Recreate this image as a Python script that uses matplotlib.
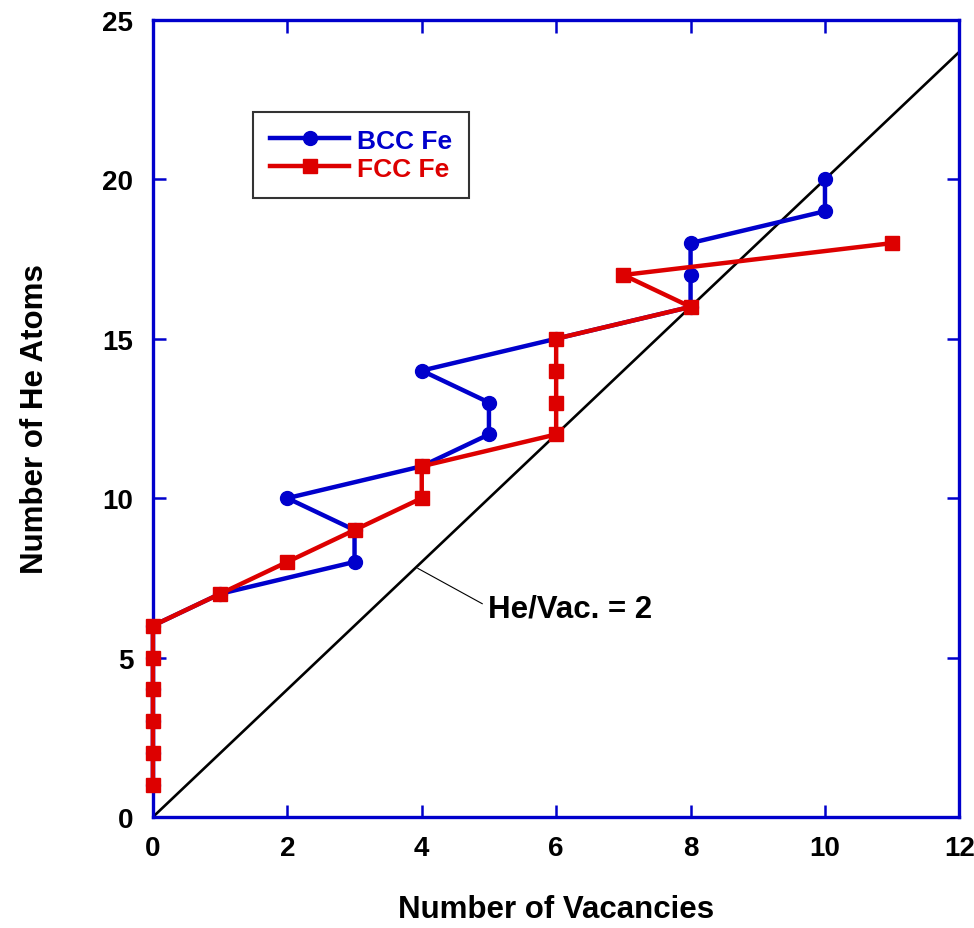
import matplotlib.pyplot as plt

plt.rcParams['font.family'] = ['Liberation Sans', 'DejaVu Sans']
plt.rcParams['font.weight'] = 'bold'

# He-vacancy cluster paths
bcc_vac = [0, 0, 0, 0, 0, 0, 1, 3, 3, 2, 4, 5, 5, 4, 6, 8, 8, 8, 10, 10]
bcc_he = [1, 2, 3, 4, 5, 6, 7, 8, 9, 10, 11, 12, 13, 14, 15, 16, 17, 18, 19, 20]
fcc_vac = [0, 0, 0, 0, 0, 0, 1, 2, 3, 4, 4, 6, 6, 6, 6, 8, 7, 11]
fcc_he = [1, 2, 3, 4, 5, 6, 7, 8, 9, 10, 11, 12, 13, 14, 15, 16, 17, 18]
ratio_x = [0, 12]
ratio_y = [0, 24]

blue = '#0000cc'
red = '#dd0000'

fig = plt.figure(figsize=(9.74, 9.29), dpi=100)
ax = fig.add_axes([0.157, 0.1195, 0.828, 0.858])

ax.plot(ratio_x, ratio_y, color='black', lw=1.9, zorder=2)
ax.plot(bcc_vac, bcc_he, color=blue, lw=3.2, marker='o', ms=10,
        label='BCC Fe', zorder=3, clip_on=False)
ax.plot(fcc_vac, fcc_he, color=red, lw=3.2, marker='s', ms=10,
        label='FCC Fe', zorder=4, clip_on=False)

ax.annotate('He/Vac. = 2', xy=(3.94, 7.8), xytext=(4.98, 6.55),
            fontsize=22.5, fontweight='bold', va='center', ha='left',
            arrowprops=dict(arrowstyle='-', color='black', lw=0.8,
                            shrinkA=2, shrinkB=0, relpos=(0, 0.55)))

ax.set_xlim(0, 12)
ax.set_ylim(0, 25)
ax.set_xticks(range(0, 13, 2))
ax.set_yticks(range(0, 26, 5))

for s in ax.spines.values():
    s.set_color(blue)
    s.set_linewidth(2.4)
ax.tick_params(direction='in', length=9, width=1.8, color=blue,
               top=True, right=True, labelsize=20)
ax.tick_params(axis='x', pad=13)
ax.tick_params(axis='y', pad=14)
for lab in ax.get_xticklabels() + ax.get_yticklabels():
    lab.set_fontweight('bold')

ax.set_xlabel('Number of Vacancies', fontsize=22.5, fontweight='bold', labelpad=24)
ax.set_ylabel('Number of He Atoms', fontsize=22.5, fontweight='bold', labelpad=38)

leg = ax.legend(loc='upper left', bbox_to_anchor=(0.124, 0.885), fontsize=19,
                frameon=True, fancybox=False, handlelength=3.0,
                borderpad=0.65, labelspacing=0.15, handletextpad=0.3,
                borderaxespad=0)
leg.get_frame().set_edgecolor('black')
leg.get_frame().set_linewidth(1.5)
for txt, c in zip(leg.get_texts(), [blue, red]):
    txt.set_color(c)
    txt.set_fontweight('bold')

fig.savefig('out.png', dpi=100)
